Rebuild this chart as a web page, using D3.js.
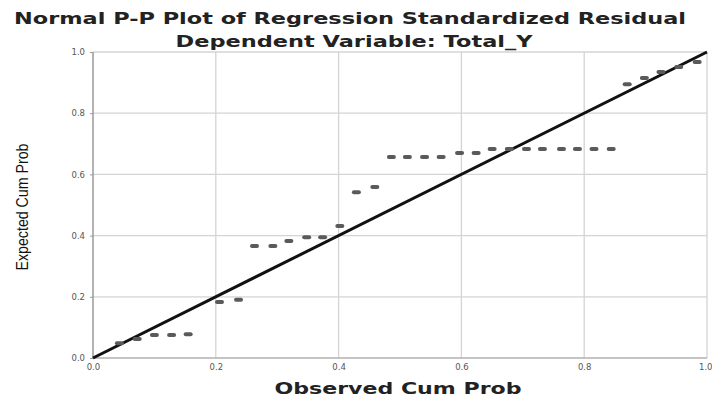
<!DOCTYPE html>
<html>
<head>
<meta charset="utf-8">
<script src="https://cdn.jsdelivr.net/npm/d3@7/dist/d3.min.js"></script>
<style>
html,body{margin:0;padding:0;background:#fff;}
svg{display:block;}
</style>
</head>
<body>
<svg id="chart" width="712" height="405"></svg>
<script>
// Data
const observedCumProb = [0.043, 0.072, 0.100, 0.128, 0.155,
  0.206, 0.237,
  0.263, 0.293, 0.319, 0.348, 0.374, 0.402, 0.429, 0.459,
  0.486, 0.512, 0.540, 0.567, 0.597, 0.624, 0.650, 0.678, 0.706, 0.732, 0.763, 0.789, 0.816, 0.844,
  0.870, 0.898, 0.925, 0.954, 0.984];
const expectedCumProb = [0.048, 0.062, 0.075, 0.075, 0.078,
  0.183, 0.190,
  0.366, 0.366, 0.382, 0.395, 0.395, 0.431, 0.542, 0.559,
  0.657, 0.657, 0.657, 0.657, 0.670, 0.670, 0.683, 0.683, 0.683, 0.683, 0.683, 0.683, 0.683, 0.683,
  0.895, 0.915, 0.935, 0.951, 0.967];
const tickValues = [0.0, 0.2, 0.4, 0.6, 0.8, 1.0];
const tickLabels = ["0.0", "0.2", "0.4", "0.6", "0.8", "1.0"];
const titleText = "Normal P-P Plot of Regression Standardized Residual";
const subtitleText = "Dependent Variable: Total_Y";
const xLabel = "Observed Cum Prob";
const yLabel = "Expected Cum Prob";

const svg = d3.select("#chart");
const L = 93, R = 707, T = 52, B = 358;
const x = d3.scaleLinear().domain([0, 1]).range([L, R]);
const y = d3.scaleLinear().domain([0, 1]).range([B, T]);

// gridlines
const g = svg.append("g");
g.selectAll("line.vg").data(tickValues.slice(1)).enter().append("line")
  .attr("x1", d => x(d)).attr("x2", d => x(d)).attr("y1", T).attr("y2", B)
  .attr("stroke", "#d4d4d4").attr("stroke-width", 1.3);
g.selectAll("line.hg").data(tickValues.slice(1)).enter().append("line")
  .attr("x1", L).attr("x2", R).attr("y1", d => y(d)).attr("y2", d => y(d))
  .attr("stroke", "#d4d4d4").attr("stroke-width", 1.3);

// axes lines
svg.append("line").attr("x1", L).attr("x2", L).attr("y1", T).attr("y2", B)
  .attr("stroke", "#9a9a9a").attr("stroke-width", 1.5);
svg.append("line").attr("x1", L).attr("x2", R).attr("y1", B).attr("y2", B)
  .attr("stroke", "#b0b0b0").attr("stroke-width", 1.3);

// tick labels
const yAxis = d3.axisLeft(y).tickValues(tickValues).tickFormat((d, i) => tickLabels[i]).tickSize(3).tickPadding(5);
const ya = svg.append("g").attr("transform", `translate(${L},0)`).call(yAxis);
ya.select(".domain").remove();
ya.selectAll("line").attr("stroke", "#999");
ya.selectAll("text").attr("font-family", "DejaVu Sans").attr("font-size", 8.5).attr("fill", "#555");

const xAxis = d3.axisBottom(x).tickValues(tickValues).tickFormat((d, i) => tickLabels[i]).tickSize(0).tickPadding(6);
const xa = svg.append("g").attr("transform", `translate(0,${B})`).call(xAxis);
xa.select(".domain").remove();
xa.selectAll("text").attr("font-family", "DejaVu Sans").attr("font-size", 8.5).attr("fill", "#555");
xa.selectAll("text").filter(d => d === 1.0).attr("text-anchor", "end").attr("dx", 5);

// diagonal reference line
svg.append("line").attr("x1", x(0)).attr("y1", y(0)).attr("x2", x(1)).attr("y2", y(1))
  .attr("stroke", "#111").attr("stroke-width", 3);

// points (dash markers)
const pts = observedCumProb.map((v, i) => ({ox: v, ey: expectedCumProb[i]}));
svg.selectAll("rect.pt").data(pts).enter().append("rect")
  .attr("x", d => x(d.ox) - 4.5).attr("y", d => y(d.ey) - 2)
  .attr("width", 9).attr("height", 4).attr("rx", 2)
  .attr("fill", "#5a5a5a");

// titles
svg.append("text").attr("x", 350).attr("y", 24).attr("text-anchor", "middle")
  .attr("font-family", "DejaVu Sans").attr("font-weight", "bold").attr("font-size", 15.5)
  .attr("fill", "#222").attr("textLength", 672).attr("lengthAdjust", "spacingAndGlyphs")
  .text(titleText);
svg.append("text").attr("x", 354).attr("y", 47).attr("text-anchor", "middle")
  .attr("font-family", "DejaVu Sans").attr("font-weight", "bold").attr("font-size", 15)
  .attr("fill", "#222").attr("textLength", 357).attr("lengthAdjust", "spacingAndGlyphs")
  .text(subtitleText);

// axis titles
svg.append("text").attr("x", 398).attr("y", 394).attr("text-anchor", "middle")
  .attr("font-family", "DejaVu Sans").attr("font-weight", "bold").attr("font-size", 15)
  .attr("fill", "#222").attr("textLength", 247).attr("lengthAdjust", "spacingAndGlyphs")
  .text(xLabel);
svg.append("text").attr("transform", "translate(28,207) rotate(-90)").attr("text-anchor", "middle")
  .attr("font-family", "Liberation Sans Narrow, Liberation Sans, sans-serif").attr("font-size", 16)
  .attr("fill", "#111").attr("textLength", 127).attr("lengthAdjust", "spacingAndGlyphs")
  .text(yLabel);
</script>
</body>
</html>
